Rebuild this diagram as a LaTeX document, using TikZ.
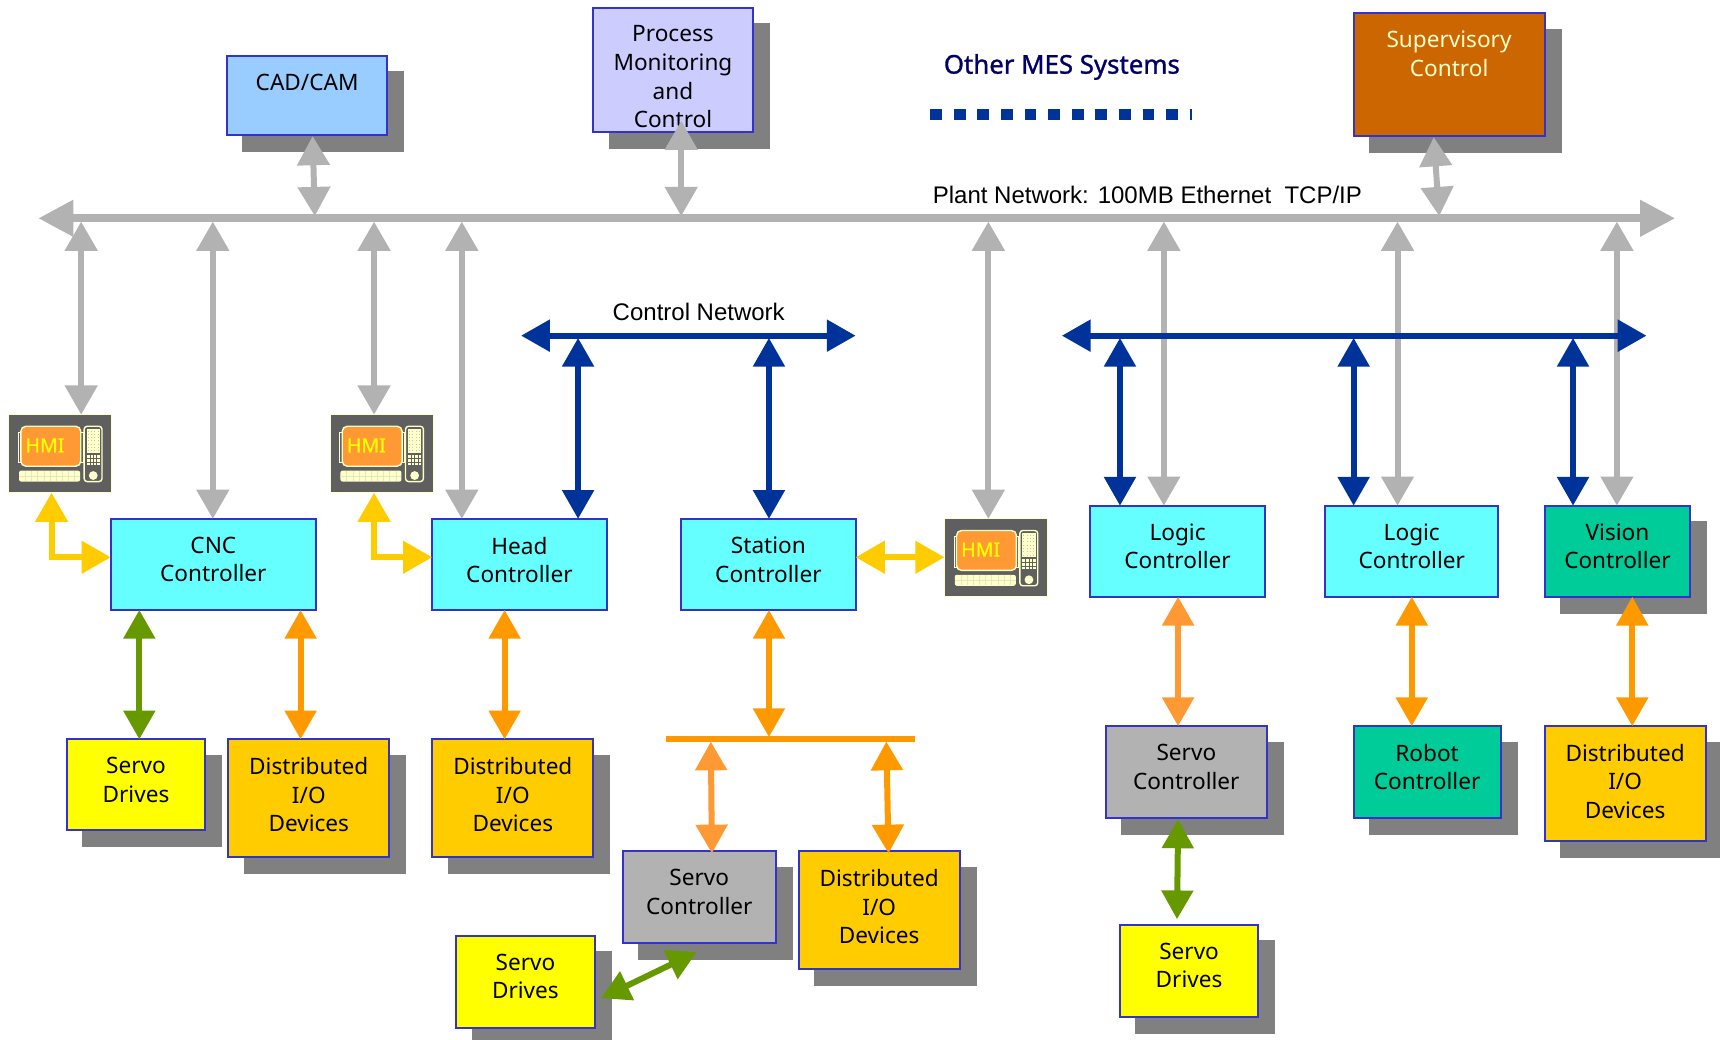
\documentclass[tikz,border=0pt]{standalone}
\usepackage{fontspec}
\setmainfont{Noto Sans}
\newfontfamily\arialf{Liberation Sans}
\newfontfamily\mesf{Noto Sans}[FakeBold=1.2]
\usetikzlibrary{arrows.meta}
\definecolor{bgr}{HTML}{B2B2B2}
\definecolor{bblue}{HTML}{003399}
\definecolor{bgold}{HTML}{FFCC00}
\definecolor{bgreen}{HTML}{669900}
\definecolor{borange}{HTML}{FF9900}
\definecolor{borangeb}{HTML}{FF9933}
\definecolor{bedge}{HTML}{3333CC}
\definecolor{bshadow}{HTML}{808080}
\definecolor{bcream}{HTML}{FFFFCC}
\definecolor{bcyan}{HTML}{66FFFF}
\definecolor{bdark}{HTML}{5F5F5F}
\definecolor{bsky}{HTML}{99CCFF}
\definecolor{blav}{HTML}{CCCCFF}
\definecolor{bbrown}{HTML}{CC6600}
\definecolor{bteal}{HTML}{00CC99}
\definecolor{byellow}{HTML}{FFFF00}
\definecolor{bnavy}{HTML}{000066}
\tikzset{
  x=.5485pt,y=-.5485pt,
  boxn/.style={draw=bedge,line width=1pt,inner sep=0pt,outer sep=0pt,font=\fontsize{11.3}{14.3}\selectfont},
  shadowr/.style={fill=bshadow,draw=none},
  tipA/.style={{Triangle[width=15.8pt,length=14.6pt]}-{Triangle[width=15.8pt,length=14.6pt]}},
  tipB/.style={{Triangle[width=15.4pt,length=14.4pt]}-{Triangle[width=15.4pt,length=14.4pt]}},
  tipC/.style={{Triangle[width=17.5pt,length=17.5pt]}-{Triangle[width=17.5pt,length=17.5pt]}},
  garrow/.style={draw=bgr,line width=3pt,tipA},
  barrow/.style={draw=bblue,line width=3pt,tipB},
  yarrow/.style={draw=bgold,line width=3pt,tipA,line join=miter},
  grarrow/.style={draw=bgreen,line width=3pt,tipB},
  oarrow/.style={draw=borange,line width=3pt,tipB},
  ooarrow/.style={draw=borangeb,line width=3pt,tipB},
  netlabel/.style={font=\arialf\fontsize{12}{14}\selectfont,inner sep=0pt},
}
% name, x1, y1, x2, y2, fill, text
\newcommand{\plainbx}[7]{%
  \pgfmathsetlengthmacro{\bxw}{(#4-#2)*.5485pt}%
  \pgfmathsetlengthmacro{\bxh}{(#5-#3)*.5485pt}%
  \node[boxn,fill=#6] (#1) at ({(#2+#4)/2},{(#3+#5)/2}) {\parbox[c][\bxh][t]{\bxw}{\vspace*{9pt}\centering #7\par}};
}
\newcommand{\bxnode}[7]{%
  \fill[shadowr] (#2+14,#3+14) rectangle (#4+15.5,#5+15.5);
  \plainbx{#1}{#2}{#3}{#4}{#5}{#6}{#7}
}
% name, x, y (top-left); 93 x 71 icon
\newcommand{\hminode}[3]{%
  \node[draw=bcream,fill=bdark,line width=.6pt,minimum width=51.5pt,minimum height=39pt,inner sep=0pt,outer sep=0pt,anchor=north west] (#1) at (#2,#3) {};
  \begin{scope}[shift={(#2,#3)}]
    \draw[bcream,line width=.5pt] (8.7,16) rectangle (67.8,44);
    \draw[bcream,line width=.7pt,fill=borangeb,rounded corners=2.5pt] (11,10.6) rectangle (65.6,47);
    \fill[bcream,rounded corners=1pt] (9.4,51) rectangle (65,61);
    \draw[bcream!85!bdark,line width=.15pt] (9.4,56) -- (65,56);
    \foreach \i in {1,...,9} \draw[bcream!85!bdark,line width=.15pt] (9.4+\i*5.6,51.5) -- ++(0,9);
    \draw[bcream,line width=.7pt,rounded corners=1.5pt] (68.7,10.6) rectangle (85,61);
    \fill[bcream] (71,13) rectangle (83,35);
    \foreach \i in {0,...,3} \foreach \j in {0,...,6} \fill[bdark!35!bcream] (72+\i*3,14.5+\j*3) rectangle ++(.9,.9);
    \fill[bcream] (71,37) rectangle (83,46);
    \draw[bdark,line width=.25pt] (74,37) -- (74,46) (77,37) -- (77,46) (80,37) -- (80,46) (71,40) -- (83,40) (71,43) -- (83,43);
    \fill[bcream] (77,55.5) circle (2.2pt);
    \node[text=byellow,font=\mesf\fontsize{9.8}{12}\selectfont,inner sep=0pt] (#1t) at (33,28) {HMI};
  \end{scope}
}
\begin{document}
\begin{tikzpicture}
\useasboundingbox (0,0) rectangle (1568,948);
% boxes
\bxnode{cad}{207}{51}{353}{123}{bsky}{CAD/CAM}
\bxnode{pmc}{541}{7}{686}{120}{blav}{Process\\Monitoring\\and\\Control}
\bxnode{sup}{1234}{12}{1408}{124}{bbrown}{\color{bcream}Supervisory\\Control}
\plainbx{cnc}{101}{473}{288}{556}{bcyan}{CNC\\Controller}
\plainbx{head}{394}{473}{553}{556}{bcyan}{Head\\Controller}
\plainbx{station}{621}{473}{780}{556}{bcyan}{Station\\Controller}
\plainbx{logica}{994}{461}{1153}{544}{bcyan}{Logic\\Controller}
\plainbx{logicb}{1208}{461}{1366}{544}{bcyan}{Logic\\Controller}
\bxnode{vision}{1408}{461}{1541}{544}{bteal}{Vision\\Controller}
\bxnode{sda}{61}{674}{187}{757}{byellow}{Servo\\Drives}
\bxnode{dioa}{208}{674}{355}{781}{bgold}{Distributed\\I/O\\Devices}
\bxnode{diob}{394}{674}{541}{781}{bgold}{Distributed\\I/O\\Devices}
\bxnode{scm}{568}{776}{707}{860}{bgr}{Servo\\Controller}
\bxnode{dioc}{728}{776}{875}{883}{bgold}{Distributed\\I/O\\Devices}
\bxnode{sdb}{416}{853}{542}{937}{byellow}{Servo\\Drives}
\bxnode{scr}{1008}{662}{1155}{746}{bgr}{Servo\\Controller}
\bxnode{robot}{1234}{662}{1368}{746}{bteal}{Robot\\Controller}
\bxnode{diod}{1408}{662}{1555}{767}{bgold}{Distributed\\I/O\\Devices}
\bxnode{sdc}{1021}{843}{1147}{927}{byellow}{Servo\\Drives}
% HMI icons
\hminode{hmia}{8}{378}
\hminode{hmib}{301}{378}
\hminode{hmic}{861}{473}
% labels
\node[font=\mesf\fontsize{12.9}{14}\selectfont,text=bnavy,inner sep=0pt] (mes) at (968,61) {Other MES Systems};
\node[netlabel] (plantlab) at (1046,178) {Plant Network: 100MB Ethernet~~TCP/IP};
\node[netlabel] (ctrllab) at (637,284.5) {Control Network};
% dotted MES line
\coordinate (mesL) at (848,104.5);
\coordinate (mesR) at (1087,104.5);
\draw[bblue,line width=5.5pt,dash pattern=on 5.9pt off 5.9pt] (mesL) -- (mesR);
% plant bus
\coordinate (plantL) at (35,199);
\coordinate (plantR) at (1527,199);
\coordinate (plantB) at (0,202);
\draw[draw=bgr,line width=3.8pt,tipC] (plantL) -- (plantR);
\draw[garrow] (285,124) -- (287,197);
\draw[garrow] (621,110) -- (621,197);
\draw[garrow] (1307,125) -- (1312,197);
\draw[garrow] (74,0 |- hmia.north) -- (74,0 |- plantB);
\draw[garrow] (194,0 |- cnc.north) -- (194,0 |- plantB);
\draw[garrow] (341,0 |- hmib.north) -- (341,0 |- plantB);
\draw[garrow] (421,0 |- head.north) -- (421,0 |- plantB);
\draw[garrow] (901,0 |- hmic.north) -- (901,0 |- plantB);
\draw[garrow] (1061,0 |- logica.north) -- (1061,0 |- plantB);
\draw[garrow] (1274,0 |- logicb.north) -- (1274,0 |- plantB);
\draw[garrow] (1474,0 |- vision.north) -- (1474,0 |- plantB);
% control networks
\coordinate (ctlaL) at (475,306);
\coordinate (ctlaR) at (780,306);
\coordinate (ctlbL) at (968,306);
\coordinate (ctlbR) at (1501,306);
\coordinate (ctlB) at (0,308);
\draw[barrow] (ctlaL) -- (ctlaR);
\draw[barrow] (ctlbL) -- (ctlbR);
\draw[barrow] (527,0 |- ctlB) -- (527,0 |- head.north);
\draw[barrow] (701,0 |- ctlB) -- (701,0 |- station.north);
\draw[barrow] (1021,0 |- ctlB) -- (1021,0 |- logica.north);
\draw[barrow] (1234,0 |- ctlB) -- (1234,0 |- logicb.north);
\draw[barrow] (1434,0 |- ctlB) -- (1434,0 |- vision.north);
% HMI links
\draw[yarrow] (47,0 |- hmia.south) -- (47,508) -- (0,508 -| cnc.west);
\draw[yarrow] (341,0 |- hmib.south) -- (341,508) -- (0,508 -| head.west);
\draw[yarrow] (0,508 -| station.east) -- (0,508 -| hmic.west);
% field links
\draw[grarrow] (127,0 |- cnc.south) -- (127,0 |- sda.north);
\draw[oarrow] (274,0 |- cnc.south) -- (274,0 |- dioa.north);
\draw[oarrow] (460,0 |- head.south) -- (460,0 |- diob.north);
\coordinate (obL) at (607,673.5);
\coordinate (obR) at (834,673.5);
\coordinate (obB) at (0,676);
\draw[borange,line width=2.8pt] (obL) -- (obR);
\draw[oarrow] (701,0 |- station.south) -- (701,672);
\draw[ooarrow] (648,0 |- obB) -- (649,778);
\draw[oarrow] (808,0 |- obB) -- (810,778);
\draw[ooarrow] (1074,0 |- logica.south) -- (1074,0 |- scr.north);
\draw[oarrow] (1287,0 |- logicb.south) -- (1287,0 |- robot.north);
\draw[oarrow] (1488,0 |- vision.south) -- (1488,0 |- diod.north);
\draw[grarrow] (1074,747) -- (1073,838);
\draw[grarrow] (548,910) -- (635,868);
\end{tikzpicture}
\end{document}
